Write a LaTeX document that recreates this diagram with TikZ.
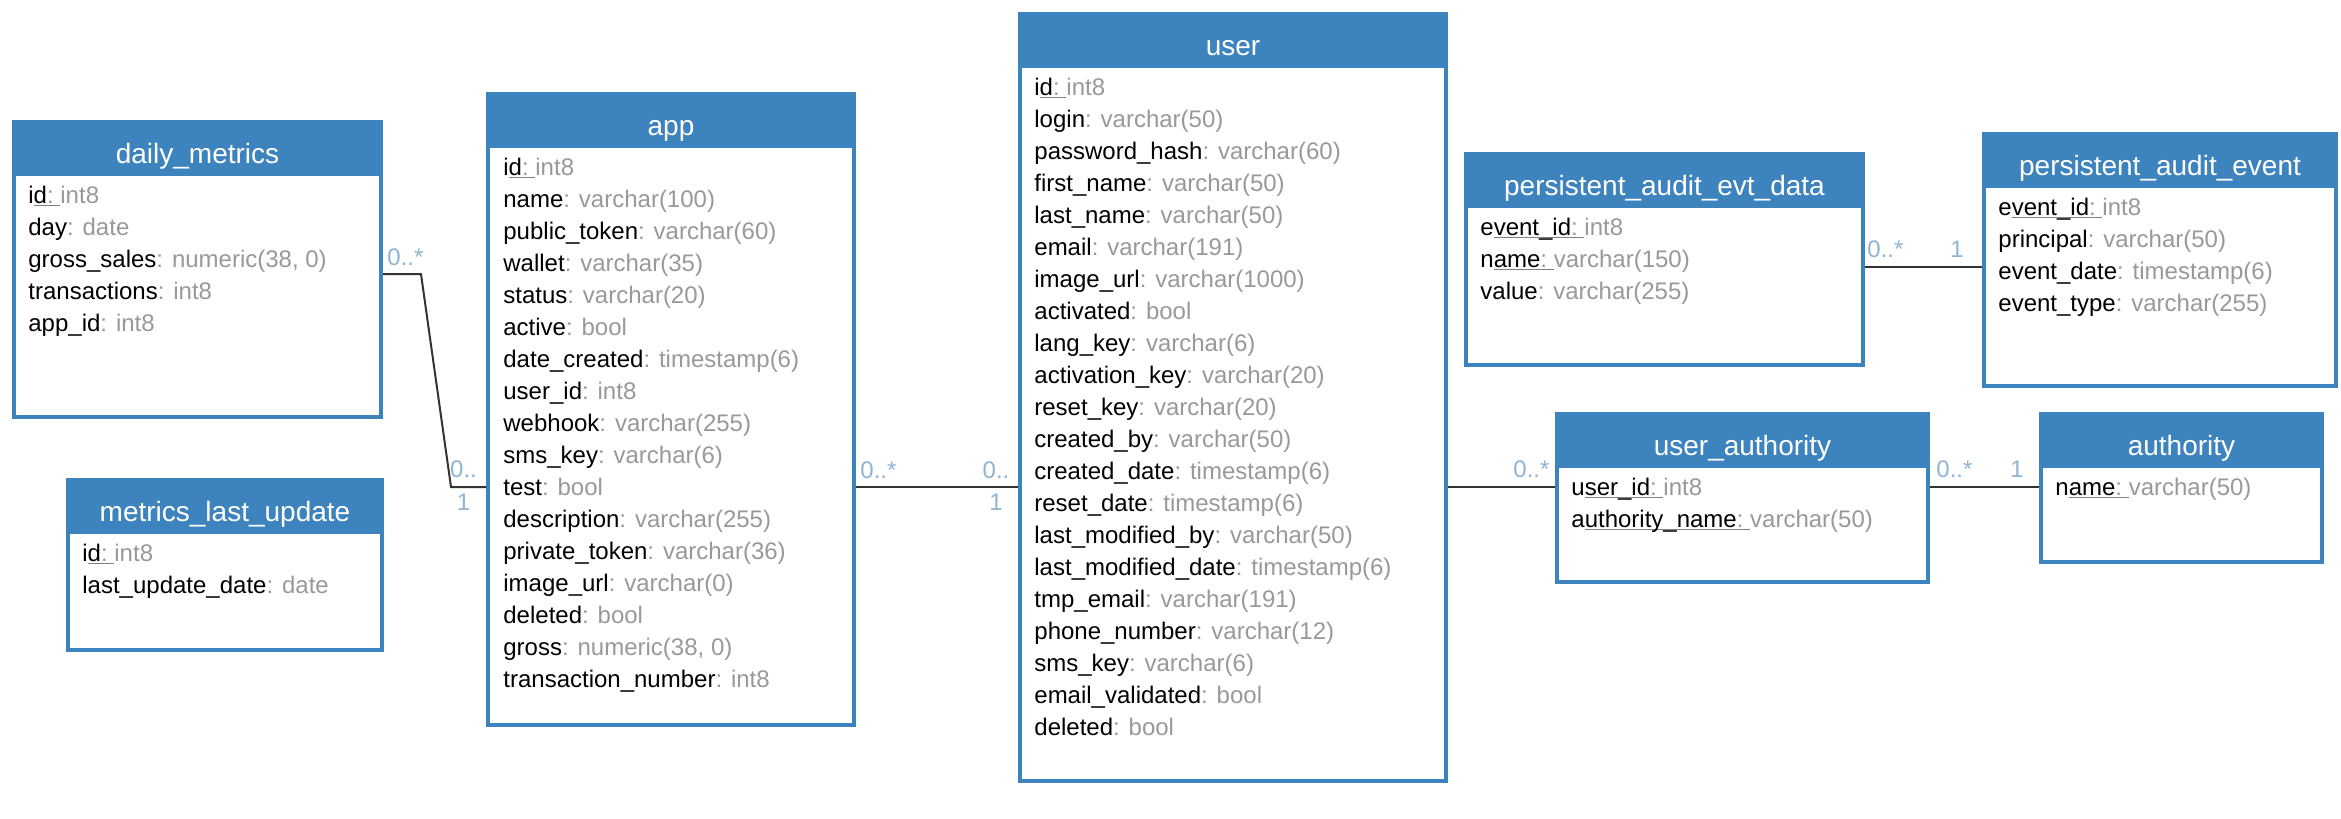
\documentclass[tikz,border=0pt]{standalone}
\usepackage{fontspec}
\setmainfont{Liberation Sans}
\usetikzlibrary{fit}

\definecolor{hdrblue}{HTML}{3D83BE}
\definecolor{typegray}{HTML}{999999}
\definecolor{keyline}{HTML}{808080}
\definecolor{mult}{HTML}{8FB4D4}
\definecolor{wire}{HTML}{333333}

% plain column: name, grey type
\newcommand\fld[2]{#1\textcolor{typegray}{: #2}}
% key column: first letter, underlined rest of the name, type
\newcommand\pkf[3]{#1\setbox0=\hbox{#2\textcolor{typegray}{:\ }}%
  \rlap{\textcolor{keyline}{\rule[-1.5pt]{\wd0}{0.75pt}}}\box0\textcolor{typegray}{#3}}

% table: name, x0, y0, x1, y1, header bottom, title
\newcommand\erbox[7]{%
  \fill[hdrblue] (#2,#3) rectangle (#4,#6);
  \node[tbl, fit={(#2+2,#3+2) (#4-2,#5-2)}] (#1) {};
  \node[ttl] (#1-title) at ({(#2+#4)/2},#3+43) {#7};
}
% columns: table name, text x, first baseline, list
\newcommand\cols[4]{%
  \foreach \f [count=\i] in {#4} {
    \node[fieldtxt] (#1-r\i) at (#2,{#3+32*(\i-1)}) {\f};
  }
}

\begin{document}
\begin{tikzpicture}[x=0.5pt,y=-0.5pt,
  tbl/.style={draw=hdrblue, line width=2pt, inner sep=0pt},
  ttl/.style={anchor=base, text=white, inner sep=0pt, font=\fontsize{14}{16}\selectfont},
  fieldtxt/.style={anchor=base west, inner sep=0pt, font=\fontsize{12}{14}\selectfont},
  rel/.style={draw=wire, line width=1pt},
  mlt/.style={anchor=base west, inner sep=0pt, text=mult, font=\fontsize{12}{14}\selectfont},
  mltc/.style={mlt, anchor=base}]

\fill[white] (0,0) rectangle (2341,819);
\useasboundingbox (0,0) rectangle (2341,819);

% tables
\erbox{daily}{12}{120}{383}{419}{176}{daily\_metrics}
\cols{daily}{28}{203}{{\pkf{i}{d}{int8}},{\fld{day}{date}},{\fld{gross\_sales}{numeric(38, 0)}},{\fld{transactions}{int8}},{\fld{app\_id}{int8}}}

\erbox{mlu}{66}{478}{384}{652}{534}{metrics\_last\_update}
\cols{mlu}{82}{561}{{\pkf{i}{d}{int8}},{\fld{last\_update\_date}{date}}}

\erbox{app}{486}{92}{856}{727}{148}{app}
\cols{app}{503}{175}{{\pkf{i}{d}{int8}},{\fld{name}{varchar(100)}},{\fld{public\_token}{varchar(60)}},{\fld{wallet}{varchar(35)}},{\fld{status}{varchar(20)}},{\fld{active}{bool}},{\fld{date\_created}{timestamp(6)}},{\fld{user\_id}{int8}},{\fld{webhook}{varchar(255)}},{\fld{sms\_key}{varchar(6)}},{\fld{test}{bool}},{\fld{description}{varchar(255)}},{\fld{private\_token}{varchar(36)}},{\fld{image\_url}{varchar(0)}},{\fld{deleted}{bool}},{\fld{gross}{numeric(38, 0)}},{\fld{transaction\_number}{int8}}}

\erbox{user}{1018}{12}{1448}{783}{68}{user}
\cols{user}{1034}{95}{{\pkf{i}{d}{int8}},{\fld{login}{varchar(50)}},{\fld{password\_hash}{varchar(60)}},{\fld{first\_name}{varchar(50)}},{\fld{last\_name}{varchar(50)}},{\fld{email}{varchar(191)}},{\fld{image\_url}{varchar(1000)}},{\fld{activated}{bool}},{\fld{lang\_key}{varchar(6)}},{\fld{activation\_key}{varchar(20)}},{\fld{reset\_key}{varchar(20)}},{\fld{created\_by}{varchar(50)}},{\fld{created\_date}{timestamp(6)}},{\fld{reset\_date}{timestamp(6)}},{\fld{last\_modified\_by}{varchar(50)}},{\fld{last\_modified\_date}{timestamp(6)}},{\fld{tmp\_email}{varchar(191)}},{\fld{phone\_number}{varchar(12)}},{\fld{sms\_key}{varchar(6)}},{\fld{email\_validated}{bool}},{\fld{deleted}{bool}}}

\erbox{evtdata}{1464}{152}{1865}{367}{208}{persistent\_audit\_evt\_data}
\cols{evtdata}{1480}{235}{{\pkf{e}{vent\_id}{int8}},{\pkf{n}{ame}{varchar(150)}},{\fld{value}{varchar(255)}}}

\erbox{event}{1982}{132}{2338}{388}{188}{persistent\_audit\_event}
\cols{event}{1998}{215}{{\pkf{e}{vent\_id}{int8}},{\fld{principal}{varchar(50)}},{\fld{event\_date}{timestamp(6)}},{\fld{event\_type}{varchar(255)}}}

\erbox{ua}{1555}{412}{1930}{584}{468}{user\_authority}
\cols{ua}{1571}{495}{{\pkf{u}{ser\_id}{int8}},{\pkf{a}{uthority\_name}{varchar(50)}}}

\erbox{auth}{2039}{412}{2324}{564}{468}{authority}
\cols{auth}{2055}{495}{{\pkf{n}{ame}{varchar(50)}}}

% relationships
\coordinate (bendA1) at (421,274);
\coordinate (bendA2) at (451,487);
\coordinate (lane) at (0,487);
\coordinate (laneE) at (0,267);

\draw[rel] (daily.east |- bendA1) -- (bendA1) -- (bendA2) -- (app.west |- bendA2);
\draw[rel] (app.east |- lane) -- (user.west |- lane);
\draw[rel] (user.east |- lane) -- (ua.west |- lane);
\draw[rel] (ua.east |- lane) -- (auth.west |- lane);
\draw[rel] (evtdata.east |- laneE) -- (event.west |- laneE);

% multiplicities
\node[mlt] (mA1) at (387,265) {0..*};
\node[mltc] (mA2) at (463.5,477) {0..};
\node[mltc] (mA3) at (463.5,510) {1};

\node[mlt] (mB1) at (860,478) {0..*};
\node[mltc] (mB2) at (996,478) {0..};
\node[mltc] (mB3) at (996,510) {1};

\node[mlt] (mC1) at (1513,477) {0..*};

\node[mlt] (mD1) at (1936,477) {0..*};
\node[mlt] (mD2) at (2010,477) {1};

\node[mlt] (mE1) at (1867,257) {0..*};
\node[mlt] (mE2) at (1950,257) {1};
\end{tikzpicture}
\end{document}
